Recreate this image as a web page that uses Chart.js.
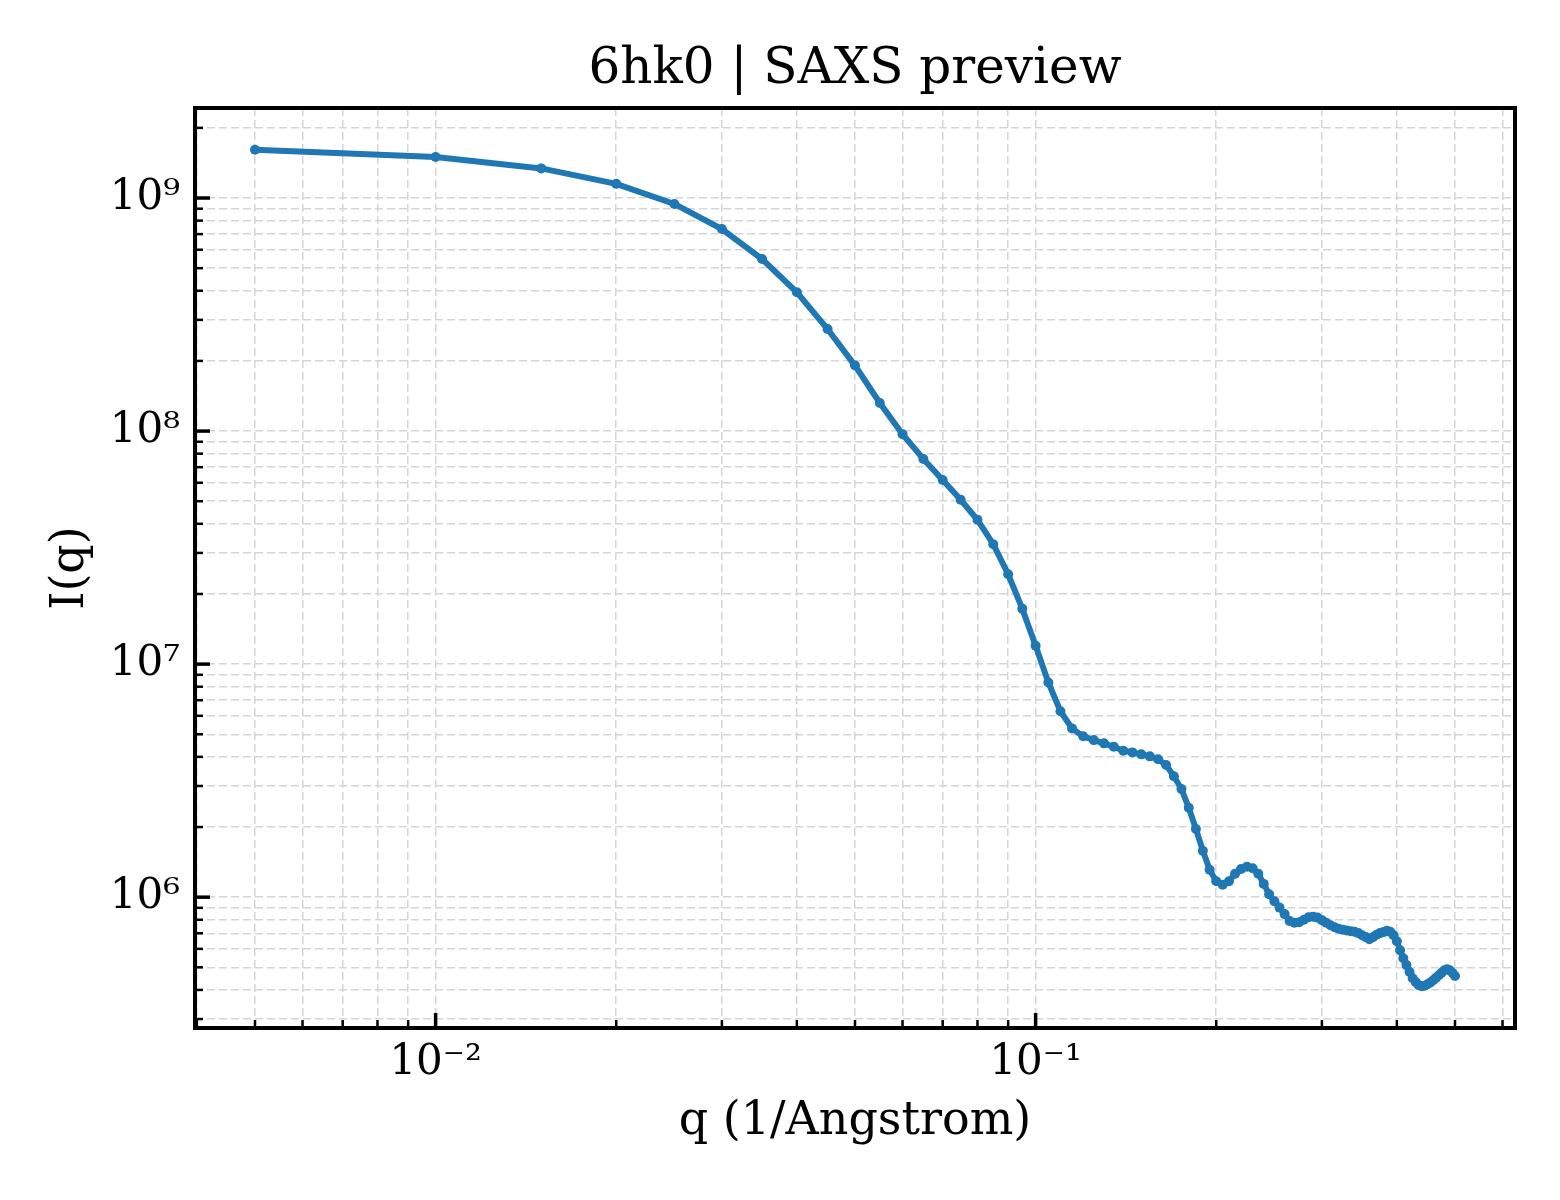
<!DOCTYPE html>
<html>
<head>
<meta charset="utf-8">
<script src="https://cdn.jsdelivr.net/npm/chart.js@4.4.1/dist/chart.umd.min.js"></script>
<style>
  html, body { margin: 0; padding: 0; background: #fff; }
  #wrap { width: 1560px; height: 1200px; }
</style>
</head>
<body>
<div id="wrap"><canvas id="saxs" width="1560" height="1200"></canvas></div>
<script>
/* 6hk0 SAXS preview — log-log I(q) curve */

const qValues = [
  0.005, 0.010, 0.015, 0.020, 0.025, 0.030, 0.035, 0.040, 0.045, 0.050,
  0.055, 0.060, 0.065, 0.070, 0.075, 0.080, 0.085, 0.090, 0.095, 0.100,
  0.105, 0.110, 0.115, 0.120, 0.125, 0.130, 0.135, 0.140, 0.145, 0.150,
  0.155, 0.160, 0.165, 0.170, 0.175, 0.180, 0.185, 0.190, 0.195, 0.200,
  0.205, 0.210, 0.215, 0.220, 0.225, 0.230, 0.235, 0.240, 0.245, 0.250,
  0.255, 0.260, 0.265, 0.270, 0.275, 0.280, 0.285, 0.290, 0.295, 0.300,
  0.305, 0.310, 0.315, 0.320, 0.325, 0.330, 0.335, 0.340, 0.345, 0.350,
  0.355, 0.360, 0.365, 0.370, 0.375, 0.380, 0.385, 0.390, 0.395, 0.400,
  0.405, 0.410, 0.415, 0.420, 0.425, 0.430, 0.435, 0.440, 0.445, 0.450,
  0.455, 0.460, 0.465, 0.470, 0.475, 0.480, 0.485, 0.490, 0.495, 0.500
];

const intensity = [
  1.61e9, 1.50e9, 1.34e9, 1.15e9, 9.43e8, 7.36e8, 5.47e8, 3.94e8, 2.74e8, 1.91e8,
  1.32e8, 9.70e7, 7.59e7, 6.17e7, 5.07e7, 4.16e7, 3.27e7, 2.43e7, 1.73e7, 1.20e7,
  8.34e6, 6.28e6, 5.30e6, 4.90e6, 4.72e6, 4.57e6, 4.42e6, 4.25e6, 4.18e6, 4.10e6,
  4.02e6, 3.91e6, 3.69e6, 3.30e6, 2.91e6, 2.42e6, 1.96e6, 1.58e6, 1.31e6, 1.17e6,
  1.13e6, 1.17e6, 1.26e6, 1.32e6, 1.35e6, 1.33e6, 1.26e6, 1.14e6, 1.03e6, 9.61e5,
  9.02e5, 8.46e5, 7.90e5, 7.77e5, 7.80e5, 8.00e5, 8.20e5, 8.25e5, 8.17e5, 7.97e5,
  7.77e5, 7.58e5, 7.43e5, 7.32e5, 7.25e5, 7.19e5, 7.14e5, 7.10e5, 7.01e5, 6.87e5,
  6.74e5, 6.60e5, 6.74e5, 6.90e5, 7.01e5, 7.08e5, 7.17e5, 7.11e5, 6.87e5, 6.47e5,
  5.92e5, 5.47e5, 5.11e5, 4.77e5, 4.49e5, 4.32e5, 4.19e5, 4.15e5, 4.17e5, 4.23e5,
  4.30e5, 4.40e5, 4.51e5, 4.62e5, 4.74e5, 4.86e5, 4.91e5, 4.86e5, 4.74e5, 4.59e5
];

/* ticks: labelled decades + minor steps inside each decade */
const xMajorTicks  = [0.001, 0.01, 0.1];
const xTickLabels  = ['10\u207B\u00B3', '10\u207B\u00B2', '10\u207B\u00B9'];
const yMajorTicks  = [1e5, 1e6, 1e7, 1e8, 1e9];
const yTickLabels  = ['10\u2075', '10\u2076', '10\u2077', '10\u2078', '10\u2079'];
const minorSteps   = [2, 3, 4, 5, 6, 7, 8, 9];

const FONT = "'DejaVu Serif', 'Liberation Serif', serif";
const LINE_COLOR = '#1f77b4';

/* matplotlib-like 5% margin in log space */
function logLimits(vals) {
  const lo = Math.log10(Math.min(...vals));
  const hi = Math.log10(Math.max(...vals));
  const pad = (hi - lo) * 0.05;
  return [Math.pow(10, lo - pad), Math.pow(10, hi + pad)];
}
const [xMin, xMax] = logLimits(qValues);
const [yMin, yMax] = logLimits(intensity);

function buildTicks(majors) {
  return function (scale) {
    const out = [];
    majors.forEach(m => {
      out.push({ value: m, lvl: 1 });
      minorSteps.forEach(s => out.push({ value: m * s, lvl: 0 }));
    });
    scale.ticks = out
      .filter(t => t.value >= scale.min && t.value <= scale.max)
      .sort((a, b) => a.value - b.value);
  };
}

function labelFor(majors, labels) {
  return function (v) {
    const i = majors.indexOf(v);
    return i >= 0 ? labels[i] : '';
  };
}

/* ── spines + inward tick marks ── */
const framePlugin = {
  id: 'frame',
  afterDatasetsDraw(chart) {
    const { ctx, chartArea: a, scales: { x, y } } = chart;
    ctx.save();
    ctx.strokeStyle = '#000';
    ctx.lineCap = 'butt';
    x.ticks.forEach(t => {
      const px = x.getPixelForValue(t.value);
      ctx.lineWidth = t.lvl ? 3.5 : 2.5;
      ctx.beginPath();
      ctx.moveTo(px, a.bottom);
      ctx.lineTo(px, a.bottom - (t.lvl ? 15 : 8));
      ctx.stroke();
    });
    y.ticks.forEach(t => {
      const py = y.getPixelForValue(t.value);
      ctx.lineWidth = t.lvl ? 3.5 : 2.5;
      ctx.beginPath();
      ctx.moveTo(a.left, py);
      ctx.lineTo(a.left + (t.lvl ? 15 : 8), py);
      ctx.stroke();
    });
    ctx.lineWidth = 4;
    ctx.strokeRect(a.left, a.top, a.right - a.left, a.bottom - a.top);
    ctx.restore();
  }
};

const gridOpts = { color: '#d5d5d5', lineWidth: 1.5, drawTicks: false };
const borderOpts = { display: false, dash: [8, 4] };

new Chart(document.getElementById('saxs'), {
  type: 'line',
  data: {
    datasets: [{
      label: 'I(q)',
      data: qValues.map((q, i) => ({ x: q, y: intensity[i] })),
      borderColor: LINE_COLOR,
      backgroundColor: LINE_COLOR,
      borderWidth: 6,
      pointRadius: 5,
      pointBorderWidth: 0,
      pointBackgroundColor: LINE_COLOR,
      tension: 0,
      fill: false,
    }],
  },
  options: {
    responsive: false,
    animation: false,
    devicePixelRatio: 1,
    layout: { padding: { left: 0, right: 45, top: 0, bottom: 0 } },
    plugins: {
      legend: { display: false },
      tooltip: { enabled: false },
      title: {
        display: true,
        fullSize: false,
        text: '6hk0 | SAXS preview',
        color: '#000',
        font: { family: FONT, size: 50, weight: 'normal' },
        padding: { top: 40, bottom: 8 },
      },
    },
    scales: {
      x: {
        type: 'logarithmic',
        min: xMin,
        max: xMax,
        afterBuildTicks: buildTicks(xMajorTicks),
        afterFit: s => { s.height = 172; },
        grid: gridOpts,
        border: borderOpts,
        ticks: {
          autoSkip: false,
          maxRotation: 0,
          padding: 10,
          color: '#000',
          font: { family: FONT, size: 42 },
          callback: labelFor(xMajorTicks, xTickLabels),
        },
        title: {
          display: true,
          text: 'q (1/Angstrom)',
          color: '#000',
          font: { family: FONT, size: 46 },
          padding: { top: 0, bottom: 50 },
        },
      },
      y: {
        type: 'logarithmic',
        min: yMin,
        max: yMax,
        afterBuildTicks: buildTicks(yMajorTicks),
        afterFit: s => { s.width = 195; },
        grid: gridOpts,
        border: borderOpts,
        ticks: {
          autoSkip: false,
          padding: 15,
          color: '#000',
          font: { family: FONT, size: 42 },
          callback: labelFor(yMajorTicks, yTickLabels),
        },
        title: {
          display: true,
          text: 'I(q)',
          color: '#000',
          font: { family: FONT, size: 46 },
          padding: { top: 43, bottom: 0 },
        },
      },
    },
  },
  plugins: [framePlugin],
});
</script>
</body>
</html>
